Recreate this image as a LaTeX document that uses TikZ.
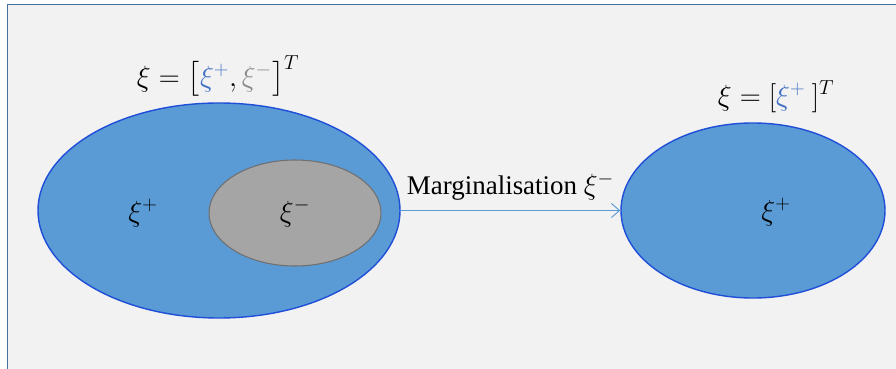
\documentclass[tikz,border=0pt]{standalone}
\usepackage{amsmath}
\usepackage{fontspec}
\setmainfont{Liberation Serif}
\usetikzlibrary{arrows.meta, shapes.geometric}
\definecolor{bgc}{HTML}{F2F2F2}
\definecolor{framec}{HTML}{41719C}
\definecolor{setc}{HTML}{5B9BD5}
\definecolor{edgec}{HTML}{1F4FD8}
\definecolor{minc}{HTML}{A5A5A5}
\definecolor{minedge}{HTML}{6F6F6F}
\definecolor{plusc}{HTML}{4472C4}
\definecolor{greyc}{HTML}{8C8C8C}
\tikzset{
  setnode/.style={ellipse, draw=edgec, fill=setc, line width=1.2pt,
    inner sep=0pt},
  subnode/.style={ellipse, draw=minedge, fill=minc, line width=0.9pt,
    inner sep=0pt},
  lbl/.style={inner sep=0pt, font=\fontsize{23}{27}\selectfont}
}

\begin{document}
\begin{tikzpicture}[x=0.03cm, y=-0.03cm, >={Straight Barb[length=7pt, width=12pt]}]
  \useasboundingbox (0,0) rectangle (896,369);
  \fill[bgc] (7.5,4.5) rectangle (896,369);
  \draw[framec, line width=1.3pt] (7.5,369) -- (7.5,4.5) -- (896,4.5);

  % sets
  \node[setnode, minimum width=10.86cm, minimum height=6.45cm] (full) at (219,210.5) {};
  \node[subnode, minimum width=5.16cm, minimum height=3.18cm] (minus) at (295,213) {};
  \node[setnode, minimum width=7.92cm, minimum height=5.25cm] (marg) at (753,210.5) {};

  \node[lbl] (fplus) at (143,213) {$\xi^{+}$};
  \node[lbl] (fminus) at (295,213) {$\xi^{-}$};
  \node[lbl] (mplus) at (776,212) {$\xi^{+}$};

  % vectors
  \node[lbl] (fvec) at (218,76)
    {$\xi=\bigl[\textcolor{plusc}{\xi^{+}},\textcolor{greyc}{\xi^{-}}\bigr]^{T}$};
  \node[lbl] (mvec) at (776,97)
    {$\xi=[\textcolor{plusc}{\xi^{+}}\ ]^{T}$};

  \draw[->, setc, line width=0.8pt] (full.east) -- (marg.west)
    node[lbl, midway, above=8pt, black] (mlabel) {Marginalisation $\xi^{-}$};
\end{tikzpicture}
\end{document}
